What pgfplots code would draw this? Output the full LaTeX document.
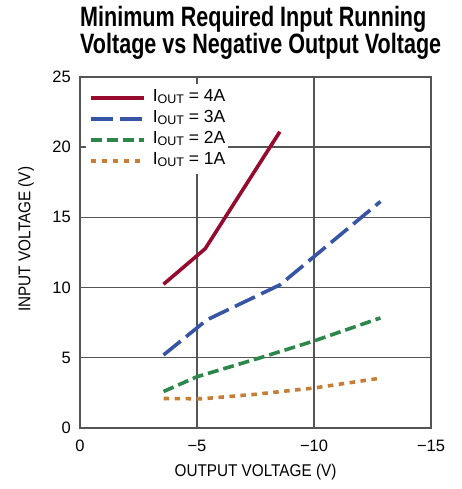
\documentclass[border=0pt]{standalone}
\usepackage{fontspec}
\setmainfont{Liberation Sans}
\newfontfamily\condfont{Liberation Sans}[FakeStretch=0.9]
\newfontfamily\titlefont{Liberation Sans}[FakeStretch=0.77]
\usepackage{pgfplots}
\pgfplotsset{compat=1.18}
\definecolor{c4}{RGB}{150,10,45}
\definecolor{c3}{RGB}{55,85,165}
\definecolor{c2}{RGB}{45,135,75}
\definecolor{c1}{RGB}{200,125,55}
\definecolor{gridc}{RGB}{85,85,85}
\newcommand{\iout}{I\raisebox{-2.5pt}{\fontsize{12.5}{12.5}\selectfont OUT}}
\begin{document}
\begin{tikzpicture}
\useasboundingbox (-80pt,-61pt) rectangle (382pt,428pt);
\begin{axis}[
  at={(0pt,0pt)}, anchor=south west,
  scale only axis, width=351pt, height=351pt,
  x dir=reverse, xmin=-15, xmax=0, ymin=0, ymax=25,
  xtick={0,-5,-10,-15}, xticklabels={0,−5,−10,−15},
  ytick={0,5,10,15,20,25},
  /pgf/number format/assume math mode=true,
  tick label style={font=\fontsize{16.5}{18}\selectfont},
  xticklabel style={inner sep=0pt, yshift=-12pt},
  yticklabel style={inner sep=0pt, xshift=-9pt},
  grid=major,
  major grid style={gridc, line width=1.4pt},
  axis line style={gridc, line width=1.9pt},
  tick align=inside, major tick length=6pt,
  tick style={gridc, line width=1.4pt},
  xlabel={OUTPUT VOLTAGE (V)}, ylabel={INPUT VOLTAGE (V)},
  label style={font=\condfont\fontsize{17}{19}\selectfont},
  xlabel style={at={(axis description cs:0.5,-0.127)}, anchor=center},
  ylabel style={at={(axis description cs:-0.154,0.538)}, anchor=center},
  title={Minimum Required Input Running\\Voltage vs Negative Output Voltage},
  title style={at={(axis description cs:0,1)}, anchor=south west, align=left, inner sep=0pt, yshift=11pt, font=\titlefont\bfseries\fontsize{28}{25}\selectfont},
  legend style={at={(axis description cs:0.017,0.98)}, anchor=north west, draw=none, fill=white,
    inner xsep=3pt, inner ysep=3pt, row sep=0pt, column sep=7pt,
    nodes={inner sep=0pt, text height=14pt, text depth=7pt},
    font=\fontsize{17.5}{20}\selectfont},
  legend cell align=left,
  legend image code/.code={\draw[#1] (0pt,0pt) -- (53pt,0pt);},
  every axis plot/.append style={line width=3.6pt},
]
\addplot[c4] coordinates {(-3.57,10.24) (-5.35,12.77) (-8.54,21.1)};
\addlegendentry{\iout{} = 4A}
\addplot[c3, dash pattern=on 22pt off 7pt] coordinates {(-3.57,5.2) (-5.42,7.7) (-8.55,10.2) (-12.84,16.13)};
\addlegendentry{\iout{} = 3A}
\addplot[c2, dash pattern=on 11pt off 5pt] coordinates {(-3.57,2.6) (-5,3.65) (-7.7,5.0) (-10,6.2) (-12.84,7.84)};
\addlegendentry{\iout{} = 2A}
\addplot[c1, dash pattern=on 5.5pt off 5.5pt] coordinates {(-3.57,2.1) (-5.2,2.08) (-7.5,2.4) (-10,2.85) (-12.84,3.55)};
\addlegendentry{\iout{} = 1A}
\end{axis}
\end{tikzpicture}
\end{document}
